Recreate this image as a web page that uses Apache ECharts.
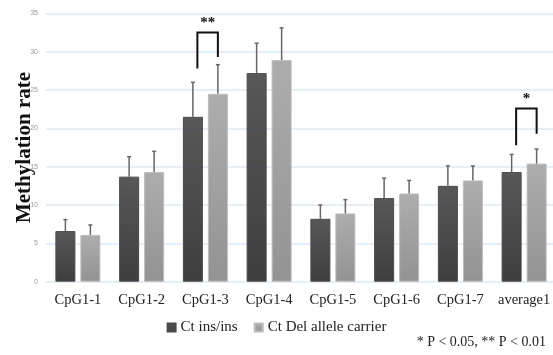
<!DOCTYPE html>
<html>
<head>
<meta charset="utf-8">
<script src="https://cdn.jsdelivr.net/npm/echarts@6/dist/echarts.min.js"></script>
<style>
  html, body { margin: 0; padding: 0; background: #fff; }
  #chart { width: 553px; height: 355px; }
</style>
</head>
<body>
<div id="chart"></div>
<script>
const categories = ['CpG1-1', 'CpG1-2', 'CpG1-3', 'CpG1-4', 'CpG1-5', 'CpG1-6', 'CpG1-7', 'average1'];
const insValues = [6.6, 13.7, 21.5, 27.2, 8.2, 10.9, 12.5, 14.3];
const insErr = [1.5, 2.6, 4.5, 3.9, 1.8, 2.6, 2.6, 2.3];
const delValues = [6.1, 14.3, 24.5, 28.9, 8.9, 11.5, 13.2, 15.4];
const delErr = [1.3, 2.7, 3.8, 4.2, 1.8, 1.7, 1.9, 1.9];
// [category index, bracket top, left leg bottom, right leg bottom, stars]
const brackets = [
  [2, 32.5, 27.8, 29.3, '**'],
  [7, 22.6, 17.8, 19.3, '*'],
];
const seriesNames = ['Ct ins/ins', 'Ct Del allele carrier'];

const serif = '"Liberation Serif", "Times New Roman", serif';
const BAR_W = 20;
const BAR_OFF = 12.5; // half of bar width + half gap

const chart = echarts.init(document.getElementById('chart'));

function errorRender(offset) {
  return function (params, api) {
    const idx = api.value(0);
    const top = api.coord([idx, api.value(1) + api.value(2)]);
    const base = api.coord([idx, api.value(1)]);
    const x = top[0] + offset;
    const style = { stroke: '#666', lineWidth: 1.5 };
    return {
      type: 'group',
      children: [
        { type: 'line', shape: { x1: x, y1: base[1], x2: x, y2: top[1] }, style },
        { type: 'line', shape: { x1: x - 2, y1: top[1], x2: x + 2, y2: top[1] }, style },
      ],
    };
  };
}

const option = {
  backgroundColor: '#fff',
  animation: false,
  title: {
    text: '* P < 0.05, ** P < 0.01',
    right: 2,
    bottom: 1,
    textStyle: { fontFamily: serif, fontSize: 14, fontWeight: 'normal', color: '#222' },
  },
  legend: {
    data: seriesNames,
    top: 315,
    left: 'center',
    itemWidth: 8,
    itemHeight: 8,
    itemGap: 16,
    icon: 'rect',
    textStyle: { fontFamily: serif, fontSize: 15, color: '#222' },
  },
  grid: { left: 46, top: 13.3, width: 510, bottom: 73.3, containLabel: false, outerBoundsMode: 'none' },
  xAxis: {
    type: 'category',
    data: categories,
    axisLine: { show: false },
    axisTick: { show: false },
    axisLabel: { interval: 0, fontFamily: serif, fontSize: 14.5, color: '#222', margin: 11 },
  },
  yAxis: {
    type: 'value',
    min: 0,
    max: 35,
    interval: 5,
    name: 'Methylation rate',
    nameLocation: 'middle',
    nameGap: 11,
    nameMoveOverlap: false,
    nameTextStyle: { fontFamily: serif, fontSize: 21, fontWeight: 'bold', color: '#111' },
    axisLine: { show: false },
    axisTick: { show: false },
    axisLabel: { fontSize: 7, color: '#999', margin: 8 },
    splitLine: { lineStyle: { color: '#dfe8f2', width: 1.5 } },
  },
  series: [
    {
      name: seriesNames[0],
      type: 'bar',
      data: insValues,
      barWidth: BAR_W,
      barGap: '25%',
      itemStyle: {
        color: new echarts.graphic.LinearGradient(0, 0, 0, 1, [
          { offset: 0, color: '#585858' },
          { offset: 1, color: '#3e3e3e' },
        ]),
        borderColor: '#4a4a4a',
        borderWidth: 1,
      },
    },
    {
      name: seriesNames[1],
      type: 'bar',
      data: delValues,
      barWidth: BAR_W,
      barGap: '25%',
      itemStyle: {
        color: new echarts.graphic.LinearGradient(0, 0, 0, 1, [
          { offset: 0, color: '#adadad' },
          { offset: 1, color: '#939393' },
        ]),
        borderColor: '#bcbcbc',
        borderWidth: 1,
      },
    },
    {
      type: 'custom',
      name: 'insErr',
      renderItem: errorRender(-BAR_OFF),
      data: insValues.map((v, i) => [i, v, insErr[i]]),
      encode: { x: 0, y: [1] },
      z: 3,
      silent: true,
    },
    {
      type: 'custom',
      name: 'delErr',
      renderItem: errorRender(BAR_OFF),
      data: delValues.map((v, i) => [i, v, delErr[i]]),
      encode: { x: 0, y: [1] },
      z: 3,
      silent: true,
    },
    {
      type: 'custom',
      name: 'brackets',
      data: brackets,
      encode: { x: 0, y: [1, 2, 3] },
      silent: true,
      z: 4,
      renderItem(params, api) {
        const idx = api.value(0);
        const top = api.coord([idx, api.value(1)]);
        const lb = api.coord([idx, api.value(2)]);
        const rb = api.coord([idx, api.value(3)]);
        const xl = top[0] - 8;
        const xr = top[0] + BAR_OFF;
        const stars = brackets[params.dataIndex][4];
        return {
          type: 'group',
          children: [
            {
              type: 'polyline',
              shape: { points: [[xl, lb[1]], [xl, top[1]], [xr, top[1]], [xr, rb[1]]] },
              style: { stroke: '#111', lineWidth: 2, fill: null },
            },
            {
              type: 'text',
              style: {
                text: stars,
                x: (xl + xr) / 2,
                y: top[1] - 2,
                align: 'center',
                verticalAlign: 'bottom',
                font: 'bold 15px ' + serif,
                fill: '#111',
              },
            },
          ],
        };
      },
    },
  ],
};

chart.setOption(option);
</script>
</body>
</html>
